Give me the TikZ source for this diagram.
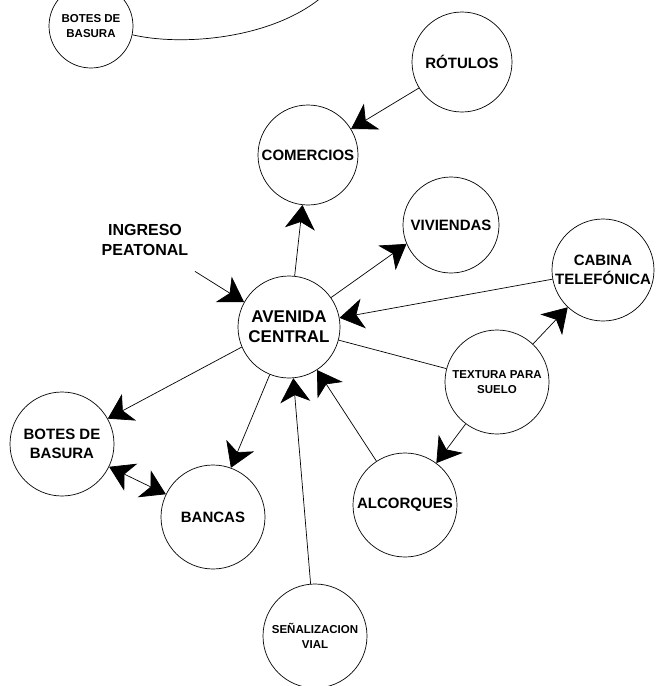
\documentclass[tikz,border=0pt]{standalone}
\usepackage{fontspec}
\setmainfont{Liberation Sans}
\usetikzlibrary{arrows.meta}

\begin{document}
\begin{tikzpicture}[x=1pt,y=-1pt,line width=0.7pt,
  lugar/.style={draw,circle,minimum size=102pt,inner sep=0pt,align=center},
  grande/.style={font=\bfseries\fontsize{17}{20}\selectfont},
  media/.style={font=\bfseries\fontsize{15}{19}\selectfont},
  chica/.style={font=\bfseries\fontsize{11.5}{15}\selectfont},
  flecha/.style={-{Stealth[length=24pt,width=30pt,inset=7pt]}},
  dobleflecha/.style={{Stealth[length=24pt,width=30pt,inset=7pt]}-{Stealth[length=24pt,width=30pt,inset=7pt]}}]
  \useasboundingbox (0,0) rectangle (660,686);
  \node[lugar,chica,minimum size=84pt] (botesA) at (91,26) {BOTES DE\\BASURA};
  \node[lugar,media,minimum size=100pt] (rotulos) at (462,62) {RÓTULOS};
  \node[lugar,media,minimum size=100pt] (comercios) at (308,155) {COMERCIOS};
  \node[lugar,media,minimum size=96pt] (viviendas) at (451,225) {VIVIENDAS};
  \node[lugar,media] (cabina) at (603,270) {CABINA\\TELEFÓNICA};
  \node[lugar,grande] (avenida) at (289,327) {AVENIDA\\CENTRAL};
  \node[lugar,chica,minimum size=104pt] (textura) at (497,382) {TEXTURA PARA\\SUELO};
  \node[lugar,media,minimum size=104pt] (alcorques) at (405,505) {ALCORQUES};
  \node[lugar,media,minimum size=104pt] (botesB) at (62,444) {BOTES DE\\BASURA};
  \node[lugar,media,minimum size=104pt] (bancas) at (213,517) {BANCAS};
  \node[lugar,chica,minimum size=104pt] (senal) at (315,636) {SEÑALIZACION\\VIAL};
  \node[font=\bfseries\fontsize{16}{20}\selectfont,align=center] (ingreso) at (145,240) {INGRESO\\PEATONAL};
  \coordinate (salida) at (322,-3);

  \draw (botesA.-12) .. controls (180,46) and (270,40) .. (salida);
  \draw[flecha] (rotulos) -- (comercios);
  \draw[flecha] (avenida) -- (comercios);
  \draw[flecha] (avenida.35) -- (viviendas.203);
  \draw[flecha] (cabina) -- (avenida);
  \draw[flecha] (textura) -- (cabina);
  \draw (avenida) -- (textura);
  \draw[flecha] (textura) -- (alcorques);
  \draw[flecha] (alcorques) -- (avenida);
  \draw[flecha] (senal) -- (avenida);
  \draw[flecha] (avenida.248) -- (bancas.70);
  \draw[flecha] (avenida.203) -- (botesB.29);
  \draw[dobleflecha] (botesB) -- (bancas);
  \draw[flecha] ([shift={(3,12)}]ingreso.south east) -- (avenida.151);
\end{tikzpicture}
\end{document}
